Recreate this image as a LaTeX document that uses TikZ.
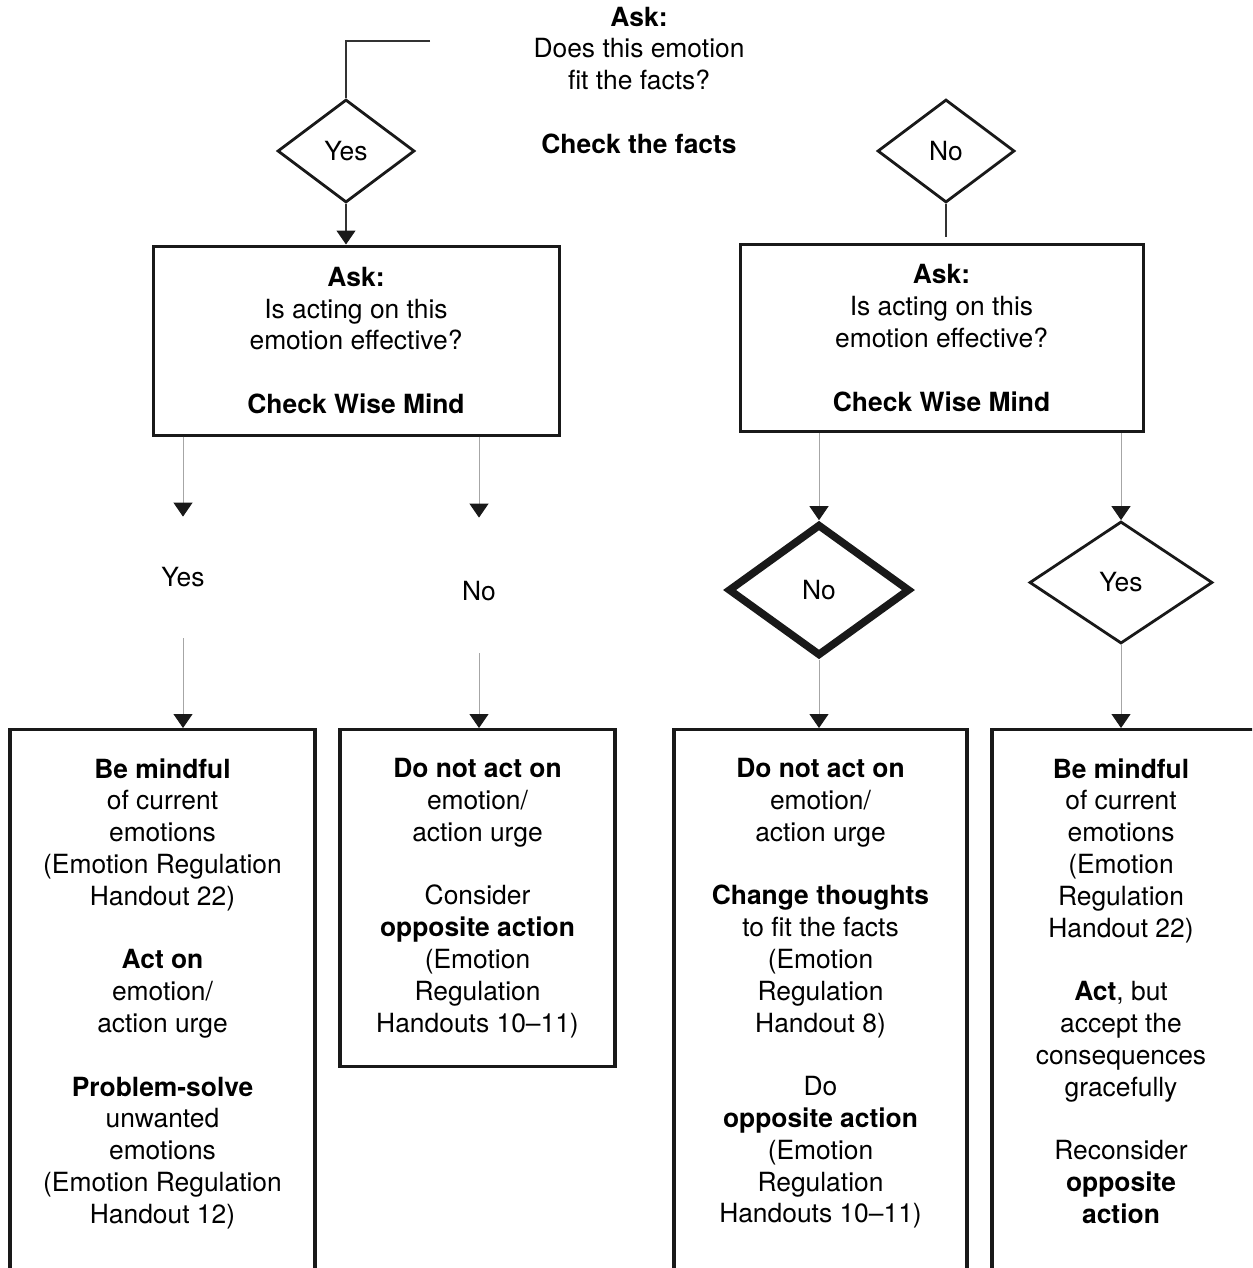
\documentclass[tikz,border=0pt]{standalone}
\usepackage{fontspec}
\setmainfont{TeX Gyre Heros}
\usetikzlibrary{positioning,shapes.geometric,arrows.meta}
\newcommand{\flowfont}{\fontsize{13.2pt}{15.9pt}\selectfont}

\begin{document}
\begin{tikzpicture}[x=0.5pt,y=-0.5pt,
    font=\flowfont,
    every node/.style={inner sep=0pt},
    txt/.style={align=center},
    askbox/.style={draw=black!90, line width=1.5pt, align=center},
    endbox/.style={draw=black!90, line width=1.6pt, anchor=north},
    choice/.style={diamond, draw=black!90, line width=1.4pt, aspect=1.3},
    tip/.style={-{Triangle[width=9.5pt,length=7pt,color=black!90]}},
    flow/.style={draw=black!35, line width=0.5pt, tip},
    link/.style={draw=black!80, line width=0.6pt}]
    \useasboundingbox (0,0) rectangle (1252,1268);
    \clip (0,0) rectangle (1252,1268);

    % first question
    \node[txt, anchor=north] (ask) at (639,6.5)
        {\textbf{Ask:}\\Does this emotion\\fit the facts?\\[15.9pt]\textbf{Check the facts}};
    \coordinate (askend) at (430,41);
    \node[choice, minimum width=68.5pt, minimum height=51.5pt] (fitYes) at (346,151) {Yes};
    \node[choice, minimum width=68.5pt, minimum height=51.5pt] (fitNo) at (946,151) {No};
    \coordinate (noend) at (946,237);

    % second question
    \node[askbox, minimum width=203pt, minimum height=94.5pt] (effL) at (356,340.5)
        {\textbf{Ask:}\\Is acting on this\\emotion effective?\\[15.9pt]\textbf{Check Wise Mind}};
    \node[askbox, minimum width=201.5pt, minimum height=93.5pt] (effR) at (941.5,338)
        {\textbf{Ask:}\\Is acting on this\\emotion effective?\\[15.9pt]\textbf{Check Wise Mind}};

    % answers
    \node[txt, minimum height=60.5pt] (effYesL) at (183,577.5) {Yes};
    \node[txt, minimum height=67.5pt, text height=15pt, text depth=0pt] (effNoL) at (479,585.5) {No};
    \node[choice, line width=3.8pt, minimum width=91pt, minimum height=66pt] (effNoR) at (819,590) {No};
    \node[choice, minimum width=91.5pt, minimum height=61pt] (effYesR) at (1121,582.5) {Yes};

    % outcomes
    \node[endbox, minimum width=152.5pt, minimum height=300pt] (outA) at (162.5,728) {};
    \node[endbox, minimum width=137.5pt, minimum height=168.5pt] (outB) at (477.5,728) {};
    \node[endbox, minimum width=146.5pt, minimum height=300pt] (outC) at (820.5,728) {};
    \node[endbox, minimum width=134pt, minimum height=300pt] (outD) at (1126,728) {};

    \node[txt, below=15pt of outA.north] (txtA)
        {\textbf{Be mindful}\\of current\\emotions\\(Emotion Regulation\\Handout 22)\\[15.9pt]
         \textbf{Act on}\\emotion/\\action urge\\[15.9pt]
         \textbf{Problem-solve}\\unwanted\\emotions\\(Emotion Regulation\\Handout 12)};
    \node[txt, below=15pt of outB.north] (txtB)
        {\textbf{Do not act on}\\emotion/\\action urge\\[15.9pt]
         Consider\\\textbf{opposite action}\\(Emotion\\Regulation\\Handouts 10–11)};
    \node[txt, below=15pt of outC.north] (txtC)
        {\textbf{Do not act on}\\emotion/\\action urge\\[15.9pt]
         \textbf{Change thoughts}\\to fit the facts\\(Emotion\\Regulation\\Handout 8)\\[15.9pt]
         Do\\\textbf{opposite action}\\(Emotion\\Regulation\\Handouts 10–11)};
    \node[txt, below=15pt of outD.north, xshift=-2.5pt] (txtD)
        {\textbf{Be mindful}\\of current\\emotions\\(Emotion\\Regulation\\Handout 22)\\[15.9pt]
         \textbf{Act}, but\\accept the\\consequences\\gracefully\\[15.9pt]
         Reconsider\\\textbf{opposite}\\\textbf{action}};

    % connectors
    \draw[link] (askend) -| (fitYes.north);
    \draw[link, tip] (fitYes.south) -- (fitYes.south |- effL.north);
    \draw[link] (fitNo.south) -- (noend);
    \draw[flow] (effL.south -| effYesL) -- (effYesL.north);
    \draw[flow] (effYesL.south) -- (effYesL.south |- outA.north);
    \draw[flow] (effL.south -| effNoL) -- (effNoL.north);
    \draw[flow] (effNoL.south) -- (effNoL.south |- outB.north);
    \draw[flow] (effR.south -| effNoR) -- (effNoR.north);
    \draw[flow] (effNoR.south) -- (effNoR.south |- outC.north);
    \draw[flow] (effR.south -| effYesR) -- (effYesR.north);
    \draw[flow] (effYesR.south) -- (effYesR.south |- outD.north);
\end{tikzpicture}
\end{document}
